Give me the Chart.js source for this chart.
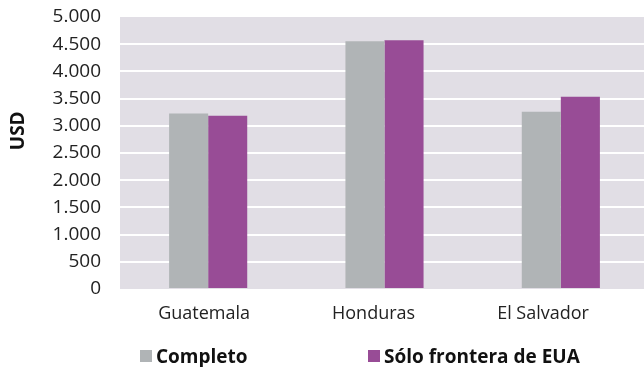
<!DOCTYPE html>
<html>
<head>
<meta charset="utf-8">
<script src="https://cdn.jsdelivr.net/npm/chart.js@4/dist/chart.umd.min.js"></script>
<style>
  html, body { margin: 0; padding: 0; background: #fff; overflow: hidden; }
  #wrap { position: relative; width: 652px; height: 367px; }
  .legend { position: absolute; top: 343px; font: bold 19px "Open Sans", sans-serif; color: #111; white-space: nowrap; }
  .legend span.box { display: inline-block; width: 12px; height: 12px; margin-right: 4px; vertical-align: 1px; }
</style>
</head>
<body>
<div id="wrap">
  <canvas id="chart" width="652" height="367"></canvas>
  <div class="legend" style="left:140px"><span class="box" style="background:#b0b4b6"></span>Completo</div>
  <div class="legend" style="left:368px"><span class="box" style="background:#984c96"></span>Sólo frontera de EUA</div>
</div>
<script>
const categories = ['Guatemala', 'Honduras', 'El Salvador'];
const completo = [3227, 4555, 3258];
const soloFrontera = [3185, 4574, 3535];
const yTicks = [0, 500, 1000, 1500, 2000, 2500, 3000, 3500, 4000, 4500, 5000];

const plotBg = {
  id: 'plotBg',
  beforeDraw(chart) {
    const { ctx, chartArea: a } = chart;
    ctx.save();
    ctx.fillStyle = '#e1dee5';
    ctx.fillRect(a.left, a.top, a.right - a.left, a.bottom - a.top);
    ctx.restore();
  }
};

const fmt = v => v.toString().replace(/\B(?=(\d{3})+(?!\d))/g, '.');

new Chart(document.getElementById('chart'), {
  type: 'bar',
  data: {
    labels: categories,
    datasets: [
      { label: 'Completo', data: completo, backgroundColor: '#b0b4b6' },
      { label: 'Sólo frontera de EUA', data: soloFrontera, backgroundColor: '#984c96' }
    ]
  },
  options: {
    responsive: false,
    animation: false,
    layout: { padding: { top: 17, right: 3, left: 0, bottom: 0 } },
    datasets: { bar: { categoryPercentage: 0.443, barPercentage: 1 } },
    plugins: { legend: { display: false }, tooltip: { enabled: false } },
    scales: {
      x: { display: false },
      // label axis: the source labels sit a little left of the bar groups
      xl: {
        type: 'linear',
        position: 'bottom',
        offset: false,
        min: -0.496,
        max: 2.625,
        afterBuildTicks(s) { s.ticks = categories.map((c, i) => ({ value: i })); },
        grid: { display: false, drawTicks: false, offset: false },
        border: { display: false },
        ticks: {
          padding: 14,
          color: '#222',
          font: { family: 'Open Sans', size: 18 },
          callback: v => categories[v]
        },
        afterFit(s) { s.height = 78; s.paddingLeft = 0; s.paddingRight = 0; }
      },
      y: {
        min: 0,
        max: 5000,
        afterBuildTicks(s) { s.ticks = yTicks.map(v => ({ value: v })); },
        grid: {
          drawTicks: false,
          lineWidth: 2,
          color: c => (c.tick && (c.tick.value === 0 || c.tick.value === 5000)) ? 'rgba(0,0,0,0)' : '#ffffff'
        },
        border: { display: false },
        ticks: {
          padding: 19,
          color: '#222',
          font: { family: 'Open Sans', size: 19 },
          callback: v => fmt(v)
        },
        title: {
          display: true,
          text: '\u00a0\u00a0\u00a0\u00a0\u00a0\u00a0\u00a0\u00a0\u00a0USD',
          color: '#111',
          padding: { top: 7, bottom: 0 },
          font: { family: 'Open Sans', size: 19, weight: 'bold' }
        },
        afterFit(s) { s.width = 120; s.paddingTop = 0; s.paddingBottom = 0; }
      }
    }
  },
  plugins: [plotBg]
});
</script>
</body>
</html>
